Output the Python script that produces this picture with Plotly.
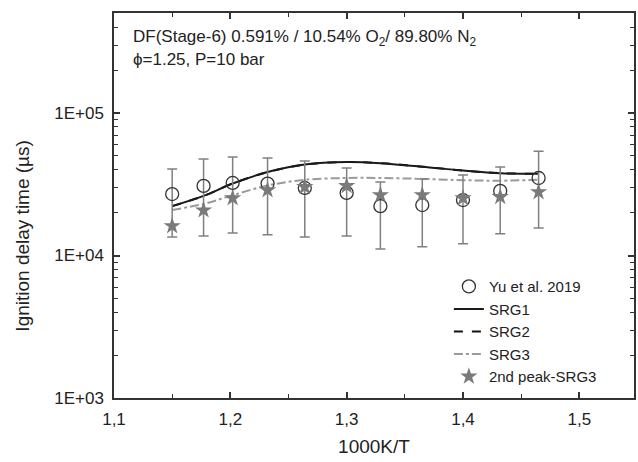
import plotly.graph_objects as go

# Inverse temperature (1000K/T)
inv_T = [1.150, 1.177, 1.202, 1.232, 1.264, 1.300, 1.329, 1.365, 1.400, 1.432, 1.465]

# Measured ignition delay times (µs) with error bounds
exp_idt = [27000, 30800, 32300, 32000, 29800, 27500, 22200, 22600, 24500, 28400, 35000]
exp_upper = [40400, 47500, 49100, 48300, 46000, 41100, 32800, 34400, 36700, 41800, 54000]
exp_lower = [13500, 13700, 14400, 14000, 13500, 13700, 11100, 11500, 12100, 14200, 15600]

# Model predictions (µs)
srg1 = [22200, 26200, 32000, 38500, 43500, 45300, 44500, 42000, 39500, 37800, 37500]
srg2 = [22200, 26200, 32000, 38500, 43500, 45300, 44500, 42000, 39500, 37800, 37500]
srg3 = [20900, 23000, 26500, 31000, 34000, 35000, 35000, 34500, 33800, 33500, 34000]
srg3_2nd_peak = [16100, 20800, 25300, 28800, 30300, 30800, 26600, 26600, 25300, 25800, 27900]

x_ticks = [1.1, 1.2, 1.3, 1.4, 1.5]
x_tick_text = ["1,1", "1,2", "1,3", "1,4", "1,5"]
y_ticks = [1e3, 1e4, 1e5]
y_tick_text = ["1E+03", "1E+04", "1E+05"]

FONT = "Liberation Sans, Arial, sans-serif"
AX = "#333333"

fig = go.Figure()

fig.add_trace(go.Scatter(
    x=inv_T, y=srg3, mode="lines", name="SRG3", line_shape="spline",
    line=dict(color="#9a9a9a", width=2, dash="dashdot"),
))
fig.add_trace(go.Scatter(
    x=inv_T, y=srg2, mode="lines", name="SRG2", line_shape="spline",
    line=dict(color="#111111", width=2, dash="dash"),
))
fig.add_trace(go.Scatter(
    x=inv_T, y=srg1, mode="lines", name="SRG1", line_shape="spline",
    line=dict(color="#1a1a1a", width=2),
))
fig.add_trace(go.Scatter(
    x=inv_T, y=exp_idt, mode="markers", name="Yu et al. 2019",
    marker=dict(symbol="circle-open", size=13, color="#333333", line=dict(width=1.3)),
    error_y=dict(type="data", symmetric=False,
                 array=[u - v for u, v in zip(exp_upper, exp_idt)],
                 arrayminus=[v - l for v, l in zip(exp_idt, exp_lower)],
                 color="#808080", thickness=1.5, width=5),
))
fig.add_trace(go.Scatter(
    x=inv_T, y=srg3_2nd_peak, mode="markers", name="2nd peak-SRG3",
    marker=dict(symbol="star", size=13, color="#7a7a7a", line=dict(width=0)),
))

# Legend order: experiment, SRG1, SRG2, SRG3, 2nd peak
for tr, rank in zip(fig.data, [4, 3, 2, 1, 5]):
    tr.legendrank = rank

fig.update_layout(
    width=638, height=462,
    margin=dict(l=114, r=2, t=13, b=64),
    paper_bgcolor="white", plot_bgcolor="white",
    font=dict(family=FONT, size=16, color="#222222"),
    showlegend=True,
    legend=dict(x=0.644, y=0.332, xanchor="left", yanchor="top",
                bgcolor="rgba(0,0,0,0)", font=dict(size=15, color="#222222"),
                tracegroupgap=0, itemwidth=30),
    xaxis=dict(
        range=[1.1, 1.547], tickvals=x_ticks, ticktext=x_tick_text,
        ticks="inside", ticklen=6, tickwidth=1.5, tickcolor=AX,
        minor=dict(tickvals=[1.15, 1.25, 1.35, 1.45], ticks="inside", ticklen=4,
                   tickcolor=AX, tickwidth=1.2),
        showline=True, linecolor=AX, linewidth=1.5, mirror="allticks",
        showgrid=False, zeroline=False,
        ticklabelstandoff=5,
        title=dict(text="1000K/T", font=dict(size=19), standoff=12),
        tickfont=dict(size=17),
    ),
    yaxis=dict(
        type="log", range=[3, 5.702], tickvals=y_ticks, ticktext=y_tick_text,
        ticks="inside", ticklen=6, tickwidth=1.5, tickcolor=AX,
        minor=dict(tickvals=[m * d for d in (1e3, 1e4, 1e5) for m in range(2, 10) if m * d <= 5e5],
                   ticks="inside", ticklen=4, tickcolor=AX, tickwidth=1.2),
        showline=True, linecolor=AX, linewidth=1.5, mirror="allticks",
        showgrid=False, zeroline=False,
        ticklabelstandoff=5,
        tickfont=dict(size=17),
    ),
    annotations=[
        dict(xref="paper", yref="paper", x=-0.176, y=0.423, xanchor="center", yanchor="middle",
             text="Ignition delay time (µs)", textangle=-90,
             showarrow=False, font=dict(size=19)),
        dict(xref="paper", yref="paper", x=0.033, y=0.935, xanchor="left", yanchor="middle",
             text="DF(Stage-6) 0.591% / 10.54% O<sub>2</sub>/ 89.80% N<sub>2</sub>",
             showarrow=False, font=dict(size=17)),
        dict(xref="paper", yref="paper", x=0.033, y=0.880, xanchor="left", yanchor="middle",
             text="ϕ=1.25, P=10 bar", showarrow=False, font=dict(size=17)),
    ],
)

fig.write_html("out.html")
